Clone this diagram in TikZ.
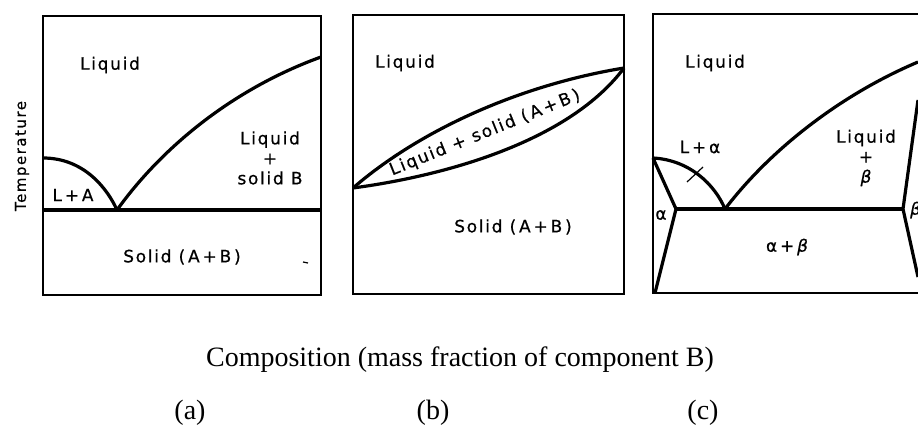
\documentclass[tikz,border=0pt]{standalone}
\usepackage{fontspec}
\setmainfont{Liberation Serif}
\newfontfamily\lblfont[LetterSpace=10, FakeBold=0.6]{DejaVu Sans}
\usetikzlibrary{positioning}

\begin{document}
\begin{tikzpicture}[x=1pt, y=-1pt,
    frame/.style={line width=1.8pt},
    curve/.style={line width=3.2pt},
    phase/.style={font=\lblfont\fontsize{17}{20}\selectfont, inner sep=0pt, align=center},
    caption/.style={font=\fontsize{28}{30}\selectfont, inner sep=0pt}]
    \clip (0,0) rectangle (918,438);

    % (a) eutectic, no solid solubility
    \draw[frame] (43,16) rectangle (321,295);
    \draw[curve] (43,210) -- (321,210);
    \draw[curve] (43,158) .. controls (85,158) and (108,190) .. (117,210);
    \draw[curve] (117,210) .. controls (160,150) and (230,90) .. (321,57);
    \draw[line width=1.2pt] (303,262) -- (308,263);
    \node (aliq) [phase] at (110,65) {Liquid};
    \node (aliqb) [phase] at (270,158) {Liquid\\+\\solid B};
    \node (ala) [phase] at (73,195) {L\,+\,A};
    \node (asol) [phase] at (182,257) {Solid (\,A\,+\,B\,)};
    \node (temp) [phase, rotate=90, font=\lblfont\fontsize{15}{17}\selectfont] at (22,156) {Temperature};

    % (b) complete solubility
    \draw[frame] (353,15) rectangle (624,294);
    \draw[curve] (353,188) .. controls (420,130) and (520,85) .. (624,68);
    \draw[curve] (353,188) .. controls (450,175) and (570,140) .. (624,68);
    \node (bliq) [phase] at (405,63) {Liquid};
    \node (blens) [phase, rotate=22] at (485,133) {Liquid + solid (\,A\,+\,B\,)};
    \node (bsol) [phase] at (513,227) {Solid (\,A\,+\,B\,)};

    % (c) eutectic, partial solubility
    \draw[frame] (918,14) -- (653,14) -- (653,293) -- (918,293);
    \draw[curve] (676,209) -- (903,209);
    \draw[curve] (653,158) .. controls (690,160) and (715,185) .. (725,209);
    \draw[curve] (653,158) -- (676,209) -- (655,293);
    \draw[curve] (725,209) .. controls (770,150) and (840,95) .. (918,62);
    \draw[curve] (918,100) -- (903,209) -- (918,277);
    \draw[line width=1.2pt] (687,182) -- (703,167);
    \node (cliq) [phase] at (715,63) {Liquid};
    \node (cla) [phase] at (700,147) {L\,+\,α};
    \node (cliqb) [phase] at (866,158) {Liquid\\+\\\itshape β};
    \node (calpha) [phase] at (661,215) {α};
    \node (cbeta) [phase, anchor=west] at (910,210) {\itshape β};
    \node (cab) [phase] at (787,247) {α\,+\,\itshape β};

    % captions
    \node (comp) [caption] at (460,360) {Composition (mass fraction of component B)};
    \node (capa) [caption] at (190,413) {(a)};
    \node (capb) [caption] at (433,413) {(b)};
    \node (capc) [caption] at (703,413) {(c)};
\end{tikzpicture}
\end{document}
